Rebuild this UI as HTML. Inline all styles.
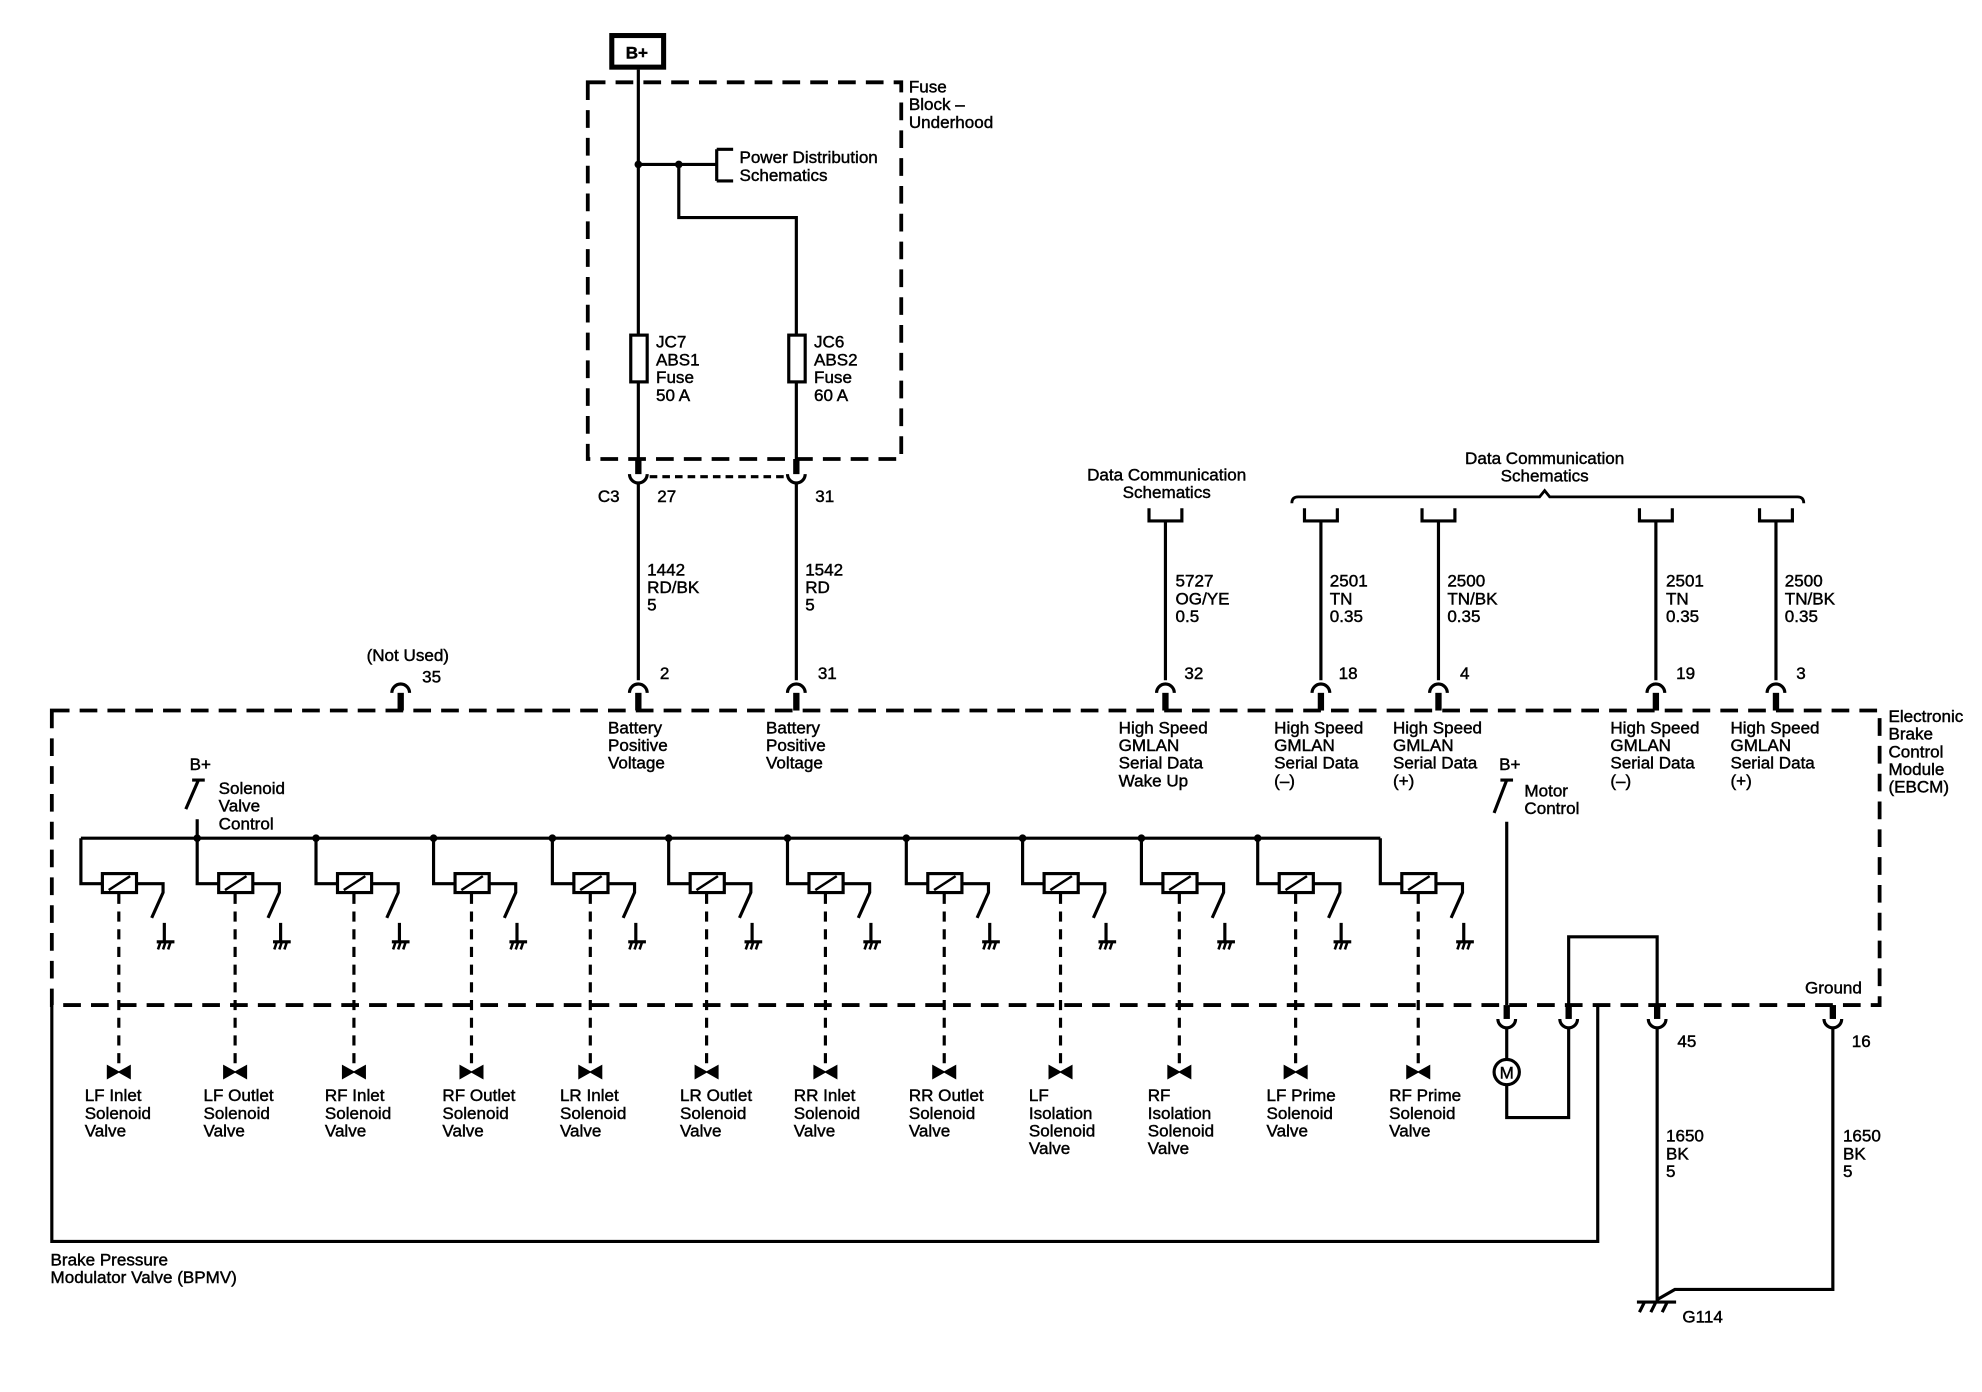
<!DOCTYPE html>
<html><head><meta charset="utf-8"><style>
html,body{margin:0;padding:0;background:#fff;}
svg{display:block;}
text{font-family:"Liberation Sans",sans-serif;font-size:13.5px;fill:#000;stroke:#000;stroke-width:0.35px;letter-spacing:0px;}
</style></head><body>
<svg width="1982" height="1392" viewBox="0 0 1568 1101" xmlns="http://www.w3.org/2000/svg">
<defs>
<g id="sol" fill="none" stroke="#000" stroke-width="2.5">
<path d="M0,663 V699 H17"/>
<rect x="17" y="691" width="27" height="15"/>
<path d="M22,704 L39,693" stroke-width="2"/>
<path d="M44,699 H65 V706 L56,726"/>
<path d="M66,730 V745 M60,745 H74"/>
<path d="M61,751 L63,745 M65,751 L67,745 M69,751 L71,745" stroke-width="2"/>
<path d="M30,707 V842" stroke-dasharray="8 6"/>
<path d="M21,843 L30,848 L21,853Z M39,843 L30,848 L39,853Z" fill="#000" stroke-width="1"/>
</g>
<g id="cupT" fill="none" stroke="#000">
<path d="M-7,548 A7,7 0 0 1 7,548" stroke-width="2.5"/>
<path d="M0,548 V562" stroke-width="5"/>
</g>
<g id="cupB" fill="none" stroke="#000">
<path d="M0,795 V806" stroke-width="5"/>
<path d="M-7,806 A7,7 0 0 0 7,806" stroke-width="2.5"/>
</g>
<g id="brk" fill="none" stroke="#000" stroke-width="2.5">
<path d="M-13,402 V412 H13 V402"/>
</g>
</defs>

<rect x="484" y="28" width="41" height="25" fill="none" stroke="#000" stroke-width="4"/>
<text x="495" y="46" font-weight="bold">B+</text>

<g fill="none" stroke="#000" stroke-width="3" stroke-dasharray="14 8">
<rect x="465" y="65" width="248" height="298"/>
</g>
<text x="719" y="73">Fuse</text><text x="719" y="87">Block –</text><text x="719" y="101">Underhood</text>

<g fill="none" stroke="#000" stroke-width="2.5">
<path d="M505,55 V363"/>
<path d="M505,130 H567 M567,118 V143 M567,118 H580 M567,143 H580"/>
<path d="M537,130 V172 H630 V363"/>
<rect x="499" y="265" width="13" height="37" fill="#fff"/>
<rect x="624" y="265" width="13" height="37" fill="#fff"/>
<path d="M505,363 V375 M630,363 V375" stroke-width="5"/>
<path d="M498,375 A7,7 0 0 0 512,375 M623,375 A7,7 0 0 0 637,375"/>
<path d="M505,382 V538 M630,382 V538"/>
<path d="M514,377 H623" stroke-dasharray="6 4"/>
</g>
<circle cx="505" cy="130" r="3"/><circle cx="537" cy="130" r="3"/>
<text x="585" y="129">Power Distribution</text><text x="585" y="143">Schematics</text>
<text x="519" y="275">JC7</text><text x="519" y="289">ABS1</text><text x="519" y="303">Fuse</text><text x="519" y="317">50 A</text>
<text x="644" y="275">JC6</text><text x="644" y="289">ABS2</text><text x="644" y="303">Fuse</text><text x="644" y="317">60 A</text>
<text x="473" y="397">C3</text><text x="520" y="397">27</text><text x="645" y="397">31</text>
<text x="512" y="455">1442</text><text x="512" y="469">RD/BK</text><text x="512" y="483">5</text>
<text x="637" y="455">1542</text><text x="637" y="469">RD</text><text x="637" y="483">5</text>
<text x="522" y="537">2</text><text x="647" y="537">31</text>
<text x="290" y="523">(Not Used)</text><text x="334" y="540">35</text>

<use href="#cupT" x="317"/><use href="#cupT" x="505"/><use href="#cupT" x="630"/>
<use href="#cupT" x="922"/><use href="#cupT" x="1045"/><use href="#cupT" x="1138"/><use href="#cupT" x="1310"/><use href="#cupT" x="1405"/>

<text x="923" y="380" text-anchor="middle">Data Communication</text><text x="923" y="394" text-anchor="middle">Schematics</text>
<text x="1222" y="367" text-anchor="middle">Data Communication</text><text x="1222" y="381" text-anchor="middle">Schematics</text>
<path d="M1022,398 Q1022,393 1027,393 H1218 L1222,388 L1226,393 H1422 Q1427,393 1427,398" fill="none" stroke="#000" stroke-width="2.2"/>
<use href="#brk" x="922"/><use href="#brk" x="1045"/><use href="#brk" x="1138"/><use href="#brk" x="1310"/><use href="#brk" x="1405"/>
<g stroke="#000" stroke-width="2.5">
<path d="M922,412 V538 M1045,412 V538 M1138,412 V538 M1310,412 V538 M1405,412 V538"/>
</g>
<text x="930" y="464">5727</text><text x="930" y="478">OG/YE</text><text x="930" y="492">0.5</text>
<text x="1052" y="464">2501</text><text x="1052" y="478">TN</text><text x="1052" y="492">0.35</text>
<text x="1145" y="464">2500</text><text x="1145" y="478">TN/BK</text><text x="1145" y="492">0.35</text>
<text x="1318" y="464">2501</text><text x="1318" y="478">TN</text><text x="1318" y="492">0.35</text>
<text x="1412" y="464">2500</text><text x="1412" y="478">TN/BK</text><text x="1412" y="492">0.35</text>
<text x="937" y="537">32</text><text x="1059" y="537">18</text><text x="1155" y="537">4</text><text x="1326" y="537">19</text><text x="1421" y="537">3</text>

<g fill="none" stroke="#000" stroke-width="3" stroke-dasharray="14 8">
<path d="M41,562 H1487 V795 H41 Z"/>
</g>
<text x="1494" y="571">Electronic</text><text x="1494" y="585">Brake</text><text x="1494" y="599">Control</text><text x="1494" y="613">Module</text><text x="1494" y="627">(EBCM)</text>

<text x="481" y="580">Battery</text><text x="481" y="594">Positive</text><text x="481" y="608">Voltage</text>
<text x="606" y="580">Battery</text><text x="606" y="594">Positive</text><text x="606" y="608">Voltage</text>
<text x="885" y="580">High Speed</text><text x="885" y="594">GMLAN</text><text x="885" y="608">Serial Data</text><text x="885" y="622">Wake Up</text>
<text x="1008" y="580">High Speed</text><text x="1008" y="594">GMLAN</text><text x="1008" y="608">Serial Data</text><text x="1008" y="622">(–)</text>
<text x="1102" y="580">High Speed</text><text x="1102" y="594">GMLAN</text><text x="1102" y="608">Serial Data</text><text x="1102" y="622">(+)</text>
<text x="1274" y="580">High Speed</text><text x="1274" y="594">GMLAN</text><text x="1274" y="608">Serial Data</text><text x="1274" y="622">(–)</text>
<text x="1369" y="580">High Speed</text><text x="1369" y="594">GMLAN</text><text x="1369" y="608">Serial Data</text><text x="1369" y="622">(+)</text>

<text x="150" y="609">B+</text>
<g fill="none" stroke="#000" stroke-width="2.5">
<path d="M152,617 H162 M157,617 L147,640"/>
<path d="M156,648 V663"/>
<path d="M64,663 H1092"/>
</g>
<text x="173" y="628">Solenoid</text><text x="173" y="642">Valve</text><text x="173" y="656">Control</text>
<g>
<circle cx="156" cy="663" r="3"/><circle cx="250" cy="663" r="3"/><circle cx="343" cy="663" r="3"/><circle cx="437" cy="663" r="3"/><circle cx="529" cy="663" r="3"/><circle cx="623" cy="663" r="3"/><circle cx="717" cy="663" r="3"/><circle cx="809" cy="663" r="3"/><circle cx="903" cy="663" r="3"/><circle cx="995" cy="663" r="3"/>
</g>
<use href="#sol" x="64"/><use href="#sol" x="156"/><use href="#sol" x="250"/><use href="#sol" x="343"/><use href="#sol" x="437"/><use href="#sol" x="529"/><use href="#sol" x="623"/><use href="#sol" x="717"/><use href="#sol" x="809"/><use href="#sol" x="903"/><use href="#sol" x="995"/><use href="#sol" x="1092"/>

<text x="67" y="871">LF Inlet</text><text x="67" y="885">Solenoid</text><text x="67" y="899">Valve</text>
<text x="161" y="871">LF Outlet</text><text x="161" y="885">Solenoid</text><text x="161" y="899">Valve</text>
<text x="257" y="871">RF Inlet</text><text x="257" y="885">Solenoid</text><text x="257" y="899">Valve</text>
<text x="350" y="871">RF Outlet</text><text x="350" y="885">Solenoid</text><text x="350" y="899">Valve</text>
<text x="443" y="871">LR Inlet</text><text x="443" y="885">Solenoid</text><text x="443" y="899">Valve</text>
<text x="538" y="871">LR Outlet</text><text x="538" y="885">Solenoid</text><text x="538" y="899">Valve</text>
<text x="628" y="871">RR Inlet</text><text x="628" y="885">Solenoid</text><text x="628" y="899">Valve</text>
<text x="719" y="871">RR Outlet</text><text x="719" y="885">Solenoid</text><text x="719" y="899">Valve</text>
<text x="814" y="871">LF</text><text x="814" y="885">Isolation</text><text x="814" y="899">Solenoid</text><text x="814" y="913">Valve</text>
<text x="908" y="871">RF</text><text x="908" y="885">Isolation</text><text x="908" y="899">Solenoid</text><text x="908" y="913">Valve</text>
<text x="1002" y="871">LF Prime</text><text x="1002" y="885">Solenoid</text><text x="1002" y="899">Valve</text>
<text x="1099" y="871">RF Prime</text><text x="1099" y="885">Solenoid</text><text x="1099" y="899">Valve</text>

<path d="M41,795 V982 H1264 V795" fill="none" stroke="#000" stroke-width="2.5"/>
<text x="40" y="1001">Brake Pressure</text><text x="40" y="1015">Modulator Valve (BPMV)</text>

<text x="1186" y="609">B+</text>
<g fill="none" stroke="#000" stroke-width="2.5">
<path d="M1187,617 H1197 M1192,617 L1182,643"/>
<path d="M1192,650 V795"/>
<path d="M1192,813 V838 M1192,858 V884 H1241 V813"/>
<path d="M1241,795 V741 H1311 V795"/>
<path d="M1311,813 V1030 M1450,813 V1020 H1325 L1311,1028"/>
<circle cx="1192" cy="848" r="10"/>
<path d="M1295,1030 H1326 M1297,1038 L1301,1030 M1306,1038 L1310,1030 M1315,1038 L1319,1030"/>
</g>
<text x="1192" y="853" text-anchor="middle" font-size="11">M</text>
<text x="1206" y="630">Motor</text><text x="1206" y="644">Control</text>
<use href="#cupB" x="1192"/><use href="#cupB" x="1241"/><use href="#cupB" x="1311"/><use href="#cupB" x="1450"/>
<text x="1428" y="786">Ground</text>
<text x="1327" y="828">45</text><text x="1465" y="828">16</text>
<text x="1318" y="903">1650</text><text x="1318" y="917">BK</text><text x="1318" y="931">5</text>
<text x="1458" y="903">1650</text><text x="1458" y="917">BK</text><text x="1458" y="931">5</text>
<text x="1331" y="1046">G114</text>
</svg>
</body></html>
